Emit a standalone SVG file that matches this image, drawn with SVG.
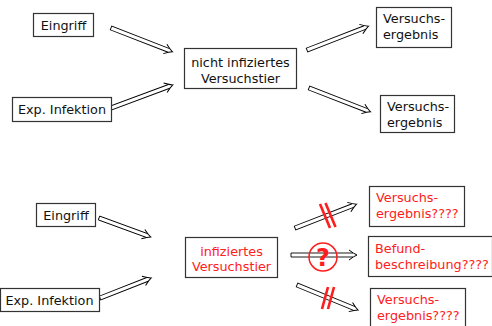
<svg xmlns="http://www.w3.org/2000/svg" xmlns:xlink="http://www.w3.org/1999/xlink" width="492" height="326" viewBox="0 0 492 326">
<style>
.box{fill:#fff;stroke:#333;stroke-width:1.2}
.t{font-family:"DejaVu Sans",sans-serif;font-size:12.8px;fill:#111}
.c{text-anchor:middle}
.r{fill:#ff2020}
.shaft{fill:#fff;stroke:#000;stroke-width:0.9}
.head{fill:none;stroke:#000;stroke-width:1}
.slash{stroke:#ff1c1c;stroke-width:2.6;fill:none}
.q{fill:none;stroke:#ff1c1c;stroke-width:1.5}
.qt{font-family:"DejaVu Sans",sans-serif;font-weight:bold;font-size:24px;fill:#ff1c1c;text-anchor:middle}
</style>
<defs>
<g id="arr66"><path class="shaft" d="M62,-2 H0 V2 H62"/><path class="head" d="M58,-5 Q63,-1.2 66,0 Q63,1.2 58,5"/></g>
<g id="arr55"><path class="shaft" d="M51,-2 H0 V2 H51"/><path class="head" d="M47,-5 Q52,-1.2 55,0 Q52,1.2 47,5"/></g>
</defs>
<rect width="492" height="326" fill="#fff"/>
<g id="connectors">
<use xlink:href="#arr66" transform="translate(111,28) rotate(21.2)"/>
<use xlink:href="#arr66" transform="translate(111,108) rotate(-20.4)"/>
<use xlink:href="#arr66" transform="translate(307,50) rotate(-21.2)"/>
<use xlink:href="#arr66" transform="translate(309,88) rotate(21.2)"/>
<use xlink:href="#arr55" transform="translate(99,218) rotate(20.1)"/>
<use xlink:href="#arr55" transform="translate(100,298) rotate(-21.4)"/>
<use xlink:href="#arr66" transform="translate(295,228) rotate(-21.2)"/>
<use xlink:href="#arr66" transform="translate(291,255)"/>
<use xlink:href="#arr66" transform="translate(297,285) rotate(22.3)"/>
<path class="slash" d="M320,204 L330,228 M325.5,203 L335.5,227"/>
<path class="slash" d="M328,287 L322,309 M334,287 L328,309"/>
<circle class="q" cx="323" cy="257" r="14"/>
<text class="qt" x="323" y="266">?</text>
</g>
<g id="n_eingriff1"><rect class="box" x="33.5" y="13.5" width="60" height="23"/><text class="t c" x="63.5" y="29.5">Eingriff</text></g>
<g id="n_exp1"><rect class="box" x="12.5" y="97.5" width="99" height="24"/><text class="t c" x="62" y="114">Exp. Infektion</text></g>
<g id="n_center"><rect class="box" x="184.5" y="48.5" width="112" height="40"/><text class="t c" x="240.5" y="67">nicht infiziertes</text><text class="t c" x="240.5" y="82.5">Versuchstier</text></g>
<g id="n_res1"><rect class="box" x="376.5" y="7.5" width="75" height="40"/><text class="t" x="383" y="23">Versuchs-</text><text class="t" x="383" y="39">ergebnis</text></g>
<g id="n_res2"><rect class="box" x="380.5" y="95.5" width="74" height="37"/><text class="t" x="387" y="111">Versuchs-</text><text class="t" x="387" y="127">ergebnis</text></g>
<g id="n_eingriff2"><rect class="box" x="36.5" y="203.5" width="59" height="23"/><text class="t c" x="66" y="219.5">Eingriff</text></g>
<g id="n_exp2"><rect class="box" x="0.5" y="288.5" width="99" height="23"/><text class="t c" x="49.5" y="304.5">Exp. Infektion</text></g>
<g id="n_inf"><rect class="box" x="185.5" y="237.5" width="92" height="40"/><text class="t c r" x="231.5" y="255.5">infiziertes</text><text class="t c r" x="231.5" y="271">Versuchstier</text></g>
<g id="n_r1"><rect class="box" x="369.5" y="186.5" width="95" height="40"/><text class="t r" x="376" y="202">Versuchs-</text><text class="t r" x="376" y="218">ergebnis????</text></g>
<g id="n_r2"><rect class="box" x="368.5" y="236.5" width="124" height="40"/><text class="t r" x="375" y="253">Befund-</text><text class="t r" x="375" y="268.5">beschreibung????</text></g>
<g id="n_r3"><rect class="box" x="370.5" y="288.5" width="95" height="40"/><text class="t r" x="377" y="304">Versuchs-</text><text class="t r" x="377" y="320">ergebnis????</text></g>
</svg>
